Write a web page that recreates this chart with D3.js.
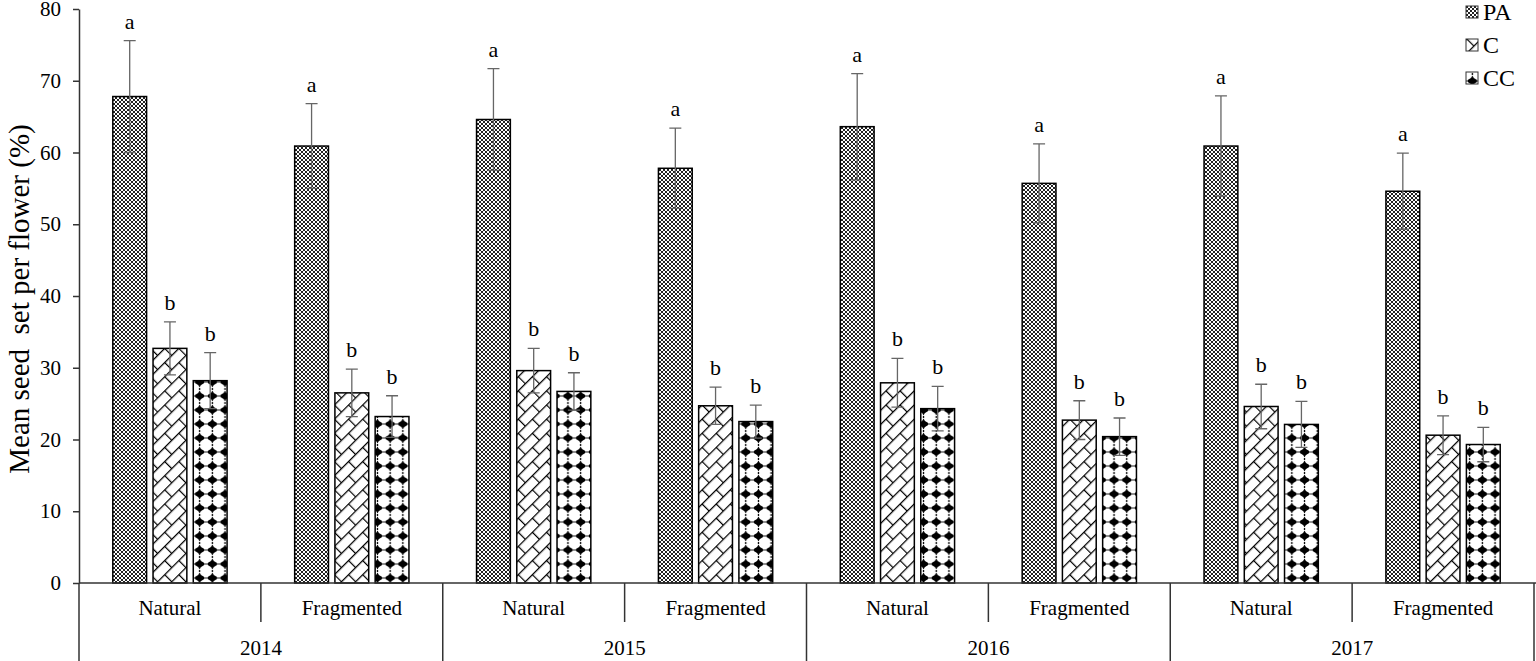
<!DOCTYPE html>
<html>
<head>
<meta charset="utf-8">
<script src="https://cdn.jsdelivr.net/npm/d3@7"></script>
<style>
  body { margin: 0; background: #fff; }
</style>
</head>
<body>
<div id="chart"></div>
<script>
// data
const years = ["2014", "2015", "2016", "2017"];
const sites = ["Natural", "Fragmented"];
const series = ["PA", "C", "CC"];
const yTicks = [0, 10, 20, 30, 40, 50, 60, 70, 80];

// one value per year/site, in order 2014 N, 2014 F, 2015 N, ...
const paMean = [67.8, 60.9, 64.6, 57.8, 63.6, 55.7, 60.9, 54.6];
const paErr  = [7.8, 5.9, 7.1, 5.6, 7.4, 5.5, 7.0, 5.3];
const cMean  = [32.7, 26.5, 29.6, 24.7, 27.9, 22.7, 24.6, 20.6];
const cErr   = [3.7, 3.3, 3.1, 2.6, 3.4, 2.7, 3.1, 2.7];
const ccMean = [28.2, 23.2, 26.7, 22.5, 24.3, 20.4, 22.1, 19.3];
const ccErr  = [3.9, 2.9, 2.6, 2.3, 3.1, 2.6, 3.2, 2.4];
const paLetter = ["a", "a", "a", "a", "a", "a", "a", "a"];
const cLetter  = ["b", "b", "b", "b", "b", "b", "b", "b"];
const ccLetter = ["b", "b", "b", "b", "b", "b", "b", "b"];

const FONT = "'Liberation Serif', 'Times New Roman', serif";

const categories = [];
years.forEach(y => sites.forEach(s => categories.push(y + "|" + s)));

const rows = [];
categories.forEach((c, i) => {
  rows.push({cat: c, s: "PA", v: paMean[i], e: paErr[i], l: paLetter[i]});
  rows.push({cat: c, s: "C", v: cMean[i], e: cErr[i], l: cLetter[i]});
  rows.push({cat: c, s: "CC", v: ccMean[i], e: ccErr[i], l: ccLetter[i]});
});

const W = 1536, H = 661;
const margin = {top: 9, right: 2, bottom: 78, left: 79};
const width = W - margin.left - margin.right,
      height = H - margin.top - margin.bottom;

const root = d3.select("#chart").append("svg")
    .attr("width", W).attr("height", H)
    .attr("font-family", FONT);

// fill patterns
const defs = root.append("defs");
const pa = defs.append("pattern").attr("id", "pat-PA")
    .attr("patternUnits", "userSpaceOnUse").attr("width", 4).attr("height", 4);
pa.append("rect").attr("width", 4).attr("height", 4).attr("fill", "#fff");
pa.append("rect").attr("width", 2).attr("height", 2).attr("fill", "#222");
pa.append("rect").attr("x", 2).attr("y", 2).attr("width", 2).attr("height", 2).attr("fill", "#222");

const pc = defs.append("pattern").attr("id", "pat-C")
    .attr("patternUnits", "userSpaceOnUse").attr("width", 20).attr("height", 20)
    .attr("patternTransform", "rotate(-45)");
pc.append("rect").attr("width", 20).attr("height", 20).attr("fill", "#fff");
pc.append("path")
    .attr("d", "M0,0.6H20M0,10.6H20M0.6,0.6V10.6M10.6,10.6V20.6")
    .attr("stroke", "#000").attr("stroke-width", 1.2).attr("fill", "none");

// diamond with slightly pinched sides, plus small dots between rows
const pcc = defs.append("pattern").attr("id", "pat-CC")
    .attr("patternUnits", "userSpaceOnUse").attr("width", 12.7).attr("height", 14)
    .attr("x", 0).attr("y", 2);
pcc.append("rect").attr("width", 12.7).attr("height", 14).attr("fill", "#fff");
pcc.append("path")
    .attr("d", "M6.35,1.6Q7.4,4.2 9,4.8Q11,5.6 11.6,7Q11,8.4 9,9.2Q7.4,9.8 6.35,12.4Q5.3,9.8 3.7,9.2Q1.7,8.4 1.1,7Q1.7,5.6 3.7,4.8Q5.3,4.2 6.35,1.6Z")
    .attr("fill", "#000");
pcc.append("rect").attr("x", 5.7).attr("y", -0.3).attr("width", 1.3).attr("height", 1.3).attr("fill", "#000");
pcc.append("rect").attr("x", 5.7).attr("y", 13).attr("width", 1.3).attr("height", 1.3).attr("fill", "#000");
pcc.append("rect").attr("x", -0.3).attr("y", 6.4).attr("width", 1).attr("height", 1.2).attr("fill", "#000");
pcc.append("rect").attr("x", 12).attr("y", 6.4).attr("width", 1).attr("height", 1.2).attr("fill", "#000");

const svg = root.append("g")
    .attr("transform", `translate(${margin.left},${margin.top})`);

const x0 = d3.scaleBand().domain(categories).range([0, width]);
const x1 = d3.scaleBand().domain(series).range([0, x0.bandwidth()])
    .paddingInner(0.16).paddingOuter(0.84);
const y = d3.scaleLinear().domain([0, 80]).range([height, 0]);

// y axis
const yAxis = svg.append("g")
    .call(d3.axisLeft(y).tickValues(yTicks).tickSize(6).tickSizeOuter(0))
    .attr("font-family", FONT);
yAxis.select(".domain").attr("stroke", "#333").attr("stroke-width", 1.5);
yAxis.selectAll(".tick line").attr("stroke", "#333").attr("stroke-width", 1.5);
yAxis.selectAll(".tick text").attr("x", -18).attr("font-size", 21).attr("fill", "#000");

svg.append("text")
    .attr("transform", `translate(${-50},${height / 2 + 3}) rotate(-90)`)
    .attr("text-anchor", "middle")
    .attr("font-size", 29)
    .attr("xml:space", "preserve")
    .text("Mean seed  set per flower (%)");

// bars
const bars = svg.selectAll("g.bar").data(rows).enter().append("g").attr("class", "bar");
bars.append("rect")
    .attr("x", d => x0(d.cat) + x1(d.s))
    .attr("y", d => y(d.v))
    .attr("width", x1.bandwidth())
    .attr("height", d => y(0) - y(d.v))
    .attr("fill", d => `url(#pat-${d.s})`)
    .attr("stroke", "#000").attr("stroke-width", 1.5);

// error bars
const cap = 6;
bars.append("path")
    .attr("d", d => {
      const cx = x0(d.cat) + x1(d.s) + x1.bandwidth() / 2;
      const t = y(d.v + d.e), b = y(d.v - d.e);
      return `M${cx},${t}V${b}M${cx - cap},${t}H${cx + cap}M${cx - cap},${b}H${cx + cap}`;
    })
    .attr("stroke", "#666").attr("stroke-width", 1.3).attr("fill", "none");

bars.append("text")
    .attr("x", d => x0(d.cat) + x1(d.s) + x1.bandwidth() / 2)
    .attr("y", d => y(d.v + d.e) - 12)
    .attr("text-anchor", "middle")
    .attr("font-size", 22)
    .text(d => d.l);

// category axis
svg.append("line")
    .attr("x1", 0).attr("x2", width + margin.right).attr("y1", height).attr("y2", height)
    .attr("stroke", "#333").attr("stroke-width", 1.5);

categories.forEach((c, i) => {
  const xl = x0(c);
  const isYear = i % 2 === 0;
  svg.append("line")
      .attr("x1", xl).attr("x2", xl)
      .attr("y1", height).attr("y2", isYear ? H - margin.top : height + 39)
      .attr("stroke", "#333").attr("stroke-width", 1.5);
  svg.append("text")
      .attr("x", xl + x0.bandwidth() / 2)
      .attr("y", height + 32)
      .attr("text-anchor", "middle")
      .attr("font-size", 21)
      .text(c.split("|")[1]);
});
svg.append("line")
    .attr("x1", width).attr("x2", width)
    .attr("y1", height).attr("y2", H - margin.top)
    .attr("stroke", "#333").attr("stroke-width", 1.5);

years.forEach(yr => {
  const a = x0(yr + "|" + sites[0]);
  svg.append("text")
      .attr("x", a + x0.bandwidth())
      .attr("y", height + 72)
      .attr("text-anchor", "middle")
      .attr("font-size", 21)
      .text(yr);
});

// legend
const legend = root.append("g").attr("transform", "translate(1466,6)");
series.forEach((s, i) => {
  const g = legend.append("g").attr("transform", `translate(0,${i * 33})`);
  g.append("rect").attr("width", 12).attr("height", 12)
      .attr("fill", `url(#pat-${s})`).attr("stroke", "#333").attr("stroke-width", 1);
  g.append("text").attr("x", 17).attr("y", 14).attr("font-size", 24).text(s);
});
</script>
</body>
</html>
